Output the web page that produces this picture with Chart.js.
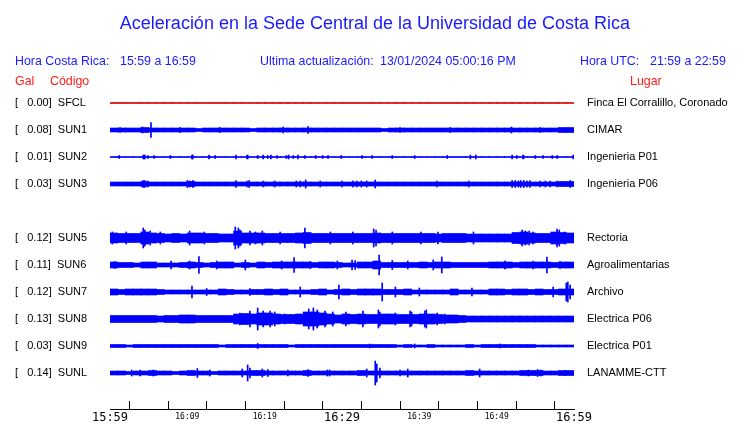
<!DOCTYPE html>
<html><head><meta charset="utf-8">
<script src="https://cdn.jsdelivr.net/npm/chart.js@4.4.1/dist/chart.umd.min.js"></script>
<style>
html,body{margin:0;padding:0;background:#fff}
body{width:740px;height:423px;overflow:hidden;position:relative;font-family:"Liberation Sans",Arial,sans-serif}
#c{position:absolute;left:0;top:0}
.t{position:absolute;white-space:pre;line-height:1}
.b{color:#1a1aff}
.r{color:#ff1a1a}
.h{font-size:12.4px;top:55px}
</style></head><body>
<canvas id="c" width="740" height="423"></canvas>
<div class="t b" style="left:5px;width:740px;text-align:center;top:13.5px;font-size:18px">Aceleración en la Sede Central de la Universidad de Costa Rica</div>
<div class="t b h" style="left:15px">Hora Costa Rica:</div>
<div class="t b h" style="left:120px">15:59 a 16:59</div>
<div class="t b h" style="left:260px">Ultima actualización:</div>
<div class="t b h" style="left:380px">13/01/2024 05:00:16 PM</div>
<div class="t b h" style="left:580px">Hora UTC:</div>
<div class="t b h" style="left:650px">21:59 a 22:59</div>
<div class="t r h" style="left:15px;top:75px">Gal</div>
<div class="t r h" style="left:50px;top:75px">Código</div>
<div class="t r h" style="left:630px;top:75px">Lugar</div>
<script>
// ---- data ----
const stationCodes = ['SFCL','SUN1','SUN2','SUN3','SUN5','SUN6','SUN7','SUN8','SUN9','SUNL'];
const stationRows  = [0,1,2,3,5,6,7,8,9,10];
const galValues    = [0.00,0.08,0.01,0.03,0.12,0.11,0.12,0.13,0.03,0.14];
const places = ['Finca El Corralillo, Coronado','CIMAR','Ingenieria P01','Ingenieria P06','Rectoria','Agroalimentarias','Archivo','Electrica P06','Electrica P01','LANAMME-CTT'];
const timeLabels = ['15:59','16:09','16:19','16:29','16:39','16:49','16:59'];
const minutesSpan = 60;

// per-minute envelope (half amplitude, trace units)
const baseSFCL = [0.5,0.5,0.5,0.5,0.5,0.5,0.5,0.5,0.5,0.5, 0.5,0.5,0.5,0.5,0.5,0.5,0.5,0.5,0.5,0.5, 0.5,0.5,0.5,0.5,0.5,0.5,0.5,0.5,0.5,0.5, 0.5,0.5,0.5,0.5,0.5,0.5,0.5,0.5,0.5,0.5, 0.5,0.5,0.5,0.5,0.5,0.5,0.5,0.5,0.5,0.5, 0.5,0.5,0.5,0.5,0.5,0.5,0.5,0.5,0.5,0.5];
const baseSUN1 = [2,2,2,2,2.5,2,2,2,2,2, 2,1.5,2,2,2,2,2,2,1.5,2, 2,2,2,2,2,2,2,2,2,2, 2,2,2,2,2,1.5,2,2,2,2, 2,2,2,2,2,2,2,2,2,2, 2,2,2,2,2,2,2,2,2.5,2.5];
const baseSUN2 = [0.5,0.5,0.5,0.5,0.5,0.5,0.5,0.5,0.5,0.5, 0.5,0.5,0.5,0.5,0.5,0.5,0.5,0.5,0.5,0.5, 0.5,0.5,0.5,0.5,0.5,0.5,0.5,0.5,0.5,0.5, 0.5,0.5,0.5,0.5,0.5,0.5,0.5,0.5,0.5,0.5, 0.5,0.5,0.5,0.5,0.5,0.5,0.5,0.5,0.5,0.5, 0.5,0.5,0.5,0.5,0.5,0.5,0.5,0.5,0.5,0.5];
const baseSUN3 = [2,2,2,2,2.5,2,2,2,2,2, 2.5,2,2,2,2,2,2,2,2,2, 2,2,2,2,2,2,2,2,2,2, 2,2,2,2,2,2,2,2,2,2, 2,2,2,2,2,2,2,2,2,2, 2,2,2,2,2,2,2,2,2.5,2.5];
const baseSUN5 = [5,4.5,4.5,4.5,6,5,4.5,4,4.5,4, 5,5,4.5,4.5,4,4,7,5,5,5, 4.5,4.5,4.5,4.5,5,5.5,4.5,4.5,4.5,4.5, 4.5,4.5,4.5,4.5,5,4.5,4.5,4.5,4.5,4.5, 4.5,4.5,4,4.5,4.5,4.5,4,4,4,4, 4,4,5.5,6,5,4.5,4.5,6,5.5,5];
const baseSUN6 = [3,2.5,2.5,2,3,3,2,2,2,2.5, 3,2.5,2,2.5,3,3,2,2.5,2,3, 2.5,3,3,3,3,3,2.5,3,3,2.5, 2,2,3,3,4,2.5,2.5,2.5,2.5,2.5, 3,2.5,3,3,2.5,2.5,2.5,2.5,2.5,3, 3,3,2.5,3,3,3,3,2.5,3,3];
const baseSUN7 = [3,2.5,3,3,3,3,2.5,2,2,2, 2,2,2,2,3,2.5,2,2,2.5,2.5, 3,2.5,3,2,2,2,2.5,3,2,2.5, 3,2.5,3,3,3,2.5,2.5,2.5,3,2, 2,2,2,2,3,2,2,2,2,3, 3,2.5,3,3,2.5,3,2.5,2.5,3,3];
const baseSUN8 = [3.5,3.5,3.5,3.5,3.5,3.5,3,3.5,3.5,4, 4,3.5,3.5,3.5,3.5,3.5,5,5.5,5,6, 6,5,4.5,4.5,5,7,7,6,5,4, 5,4.5,5,4.5,4.5,5,5,4.5,4.5,4.5, 5,5,4.5,4,4,3.5,3,3,3,3, 3,3,3,3,3,3,3,3,3,3];
const baseSUN9 = [1.5,1.5,1,1.5,1.5,1.5,1.5,1.5,1.5,1.5, 1.5,1.5,1.5,1.5,1,1.5,1.5,1.5,1.5,1.5, 1.5,1.5,1.5,1,1.5,1.5,1.5,1.5,1.5,1.5, 1.5,1.5,1.5,1.5,1.5,1.5,1.5,1,1.5,1, 1,1.5,1,1,1,1,1.5,1,1.5,1.5, 1.5,1.5,1.5,1.5,1.5,1,1,1,1,1];
const baseSUNL = [2,2,1.5,2,2,2.5,2,2,1.5,2, 2.5,2,2,1.5,2,2,2,2,2.5,2.5, 2,2,2,2,2,2.5,2,2,2,2, 2,2,2.5,2,2,2,2,2,2,2, 2,2,2,2,2,2,2.5,2,2,2, 2,2,2,2.5,2.5,2.5,2,2,2.5,2.5];

// peaks: [minute, half amplitude]
const peaksSFCL = [];
const peaksSUN1 = [[1.3,2.5],[4.2,3],[5.3,7.5],[9.1,2.5],[14.2,2.5],[22.4,3],[25.6,3.5],[37.5,2.5],[44.0,2.5],[51.9,3],[55.6,2.5]];
const peaksSUN2 = [[1.2,1.5],[4.3,2],[4.5,2],[4.9,1.5],[5.7,1.5],[7.8,1.5],[10.6,2],[10.7,2],[12.8,2],[13.6,1.5],[16.3,2],[17.7,1.5],[17.8,2],[19.1,1.5],[19.8,2],[20.4,1.5],[20.8,2],[21.6,1.5],[22.8,1.5],[23.1,2],[23.7,1.5],[24.3,2],[25.2,1.5],[26.6,1.5],[27.5,1.5],[28.2,1.5],[29.9,1.5],[32.6,1.5],[33.9,1.5],[36.5,1.5],[39.4,1.5],[43.6,1.5],[46.6,2],[47.3,2],[52.0,2],[52.6,1.5],[53.4,2],[53.5,1.5],[55.0,1.5],[56.0,1.5],[57.2,1.5],[57.8,1.5],[59.9,2]];
const peaksSUN3 = [[4.3,3.5],[4.5,3.5],[4.9,3],[10.0,3.5],[10.3,3],[10.7,3.5],[16.3,3.5],[17.7,3],[18.0,3.5],[19.8,3],[21.3,3],[24.1,3],[24.6,3],[25.3,4],[27.2,3],[30.0,3],[31.4,3],[31.9,3],[32.5,3],[33.2,3],[34.3,4],[42.3,3],[46.4,3],[52.0,3.5],[52.4,3.5],[52.8,3],[53.1,3.5],[53.5,3.5],[53.9,3],[54.3,3.5],[55.6,3],[56.3,3],[56.9,3],[57.8,3],[59.5,3.5]];
const peaksSUN5 = [[0.3,6],[2.1,6],[4.3,10],[4.5,8],[5.2,7],[6.5,6],[10.3,7],[12.2,6],[16.2,11],[16.6,10],[16.8,8],[18.1,7],[18.8,6],[19.7,7],[22.0,6],[25.2,10],[28.5,6],[31.4,6],[34.1,9],[34.4,8],[36.5,6],[40.2,6],[42.4,6],[47.0,6],[53.3,8],[53.7,7],[54.2,7],[54.7,6],[57.8,9],[58.1,8],[58.8,6]];
const peaksSUN6 = [[0.6,3.5],[7.9,4],[10.3,4],[11.5,8.5],[13.8,4],[17.5,5],[22.2,4],[23.8,7.5],[25.9,3.5],[29.4,4],[31.3,5],[31.7,4.5],[34.8,10],[36.5,4.5],[38.5,4],[41.8,5],[42.9,8],[51.1,4],[54.7,4],[56.5,8],[58.2,3.5]];
const peaksSUN7 = [[10.6,6],[12.5,3.5],[18.1,3.5],[24.6,5],[29.6,7],[35.2,9],[36.9,5],[40.0,4],[46.8,4],[57.3,5],[59.0,9],[59.2,10],[59.5,7]];
const peaksSUN8 = [[16.8,6],[18.1,8],[19.1,11],[19.8,8],[20.7,8],[21.3,7],[22.6,5],[25.7,10],[26.3,11],[26.8,9],[27.8,8],[28.8,7],[30.5,7],[32.7,8],[34.7,9],[34.9,7],[36.9,6],[38.8,8],[39.0,7],[40.7,8],[40.9,9],[42.3,6],[43.3,5]];
const peaksSUN9 = [[19.1,2.5],[33.6,2],[39.4,2],[50.4,2]];
const peaksSUNL = [[2.8,3],[3.9,3],[5.6,3],[11.3,4.5],[12.9,3],[17.1,4],[17.8,8],[18.1,5],[19.7,4],[20.4,3.5],[23.0,3],[25.6,3.5],[28.1,3],[28.4,3],[33.2,4],[34.3,12],[34.5,9],[34.9,5],[37.5,3],[38.5,4],[47.8,4],[54.1,3],[55.3,3.5],[55.7,3],[58.8,2.5]];

const bases = [baseSFCL,baseSUN1,baseSUN2,baseSUN3,baseSUN5,baseSUN6,baseSUN7,baseSUN8,baseSUN9,baseSUNL];
const peaks = [peaksSFCL,peaksSUN1,peaksSUN2,peaksSUN3,peaksSUN5,peaksSUN6,peaksSUN7,peaksSUN8,peaksSUN9,peaksSUNL];

// ---- chart ----
const UNITS_PER_ROW = 27;
const traceColors = stationCodes.map(c => c === 'SFCL' ? '#e00000' : '#0000ff');
const datasets = [];
stationCodes.forEach((code, k) => {
  const row = stationRows[k];
  datasets.push({
    type: 'bar', label: code + ' env', grouped: false, barThickness: 8,
    backgroundColor: traceColors[k], borderWidth: 0,
    data: bases[k].map((a, i) => ({x: i + 0.5, y: [row - a / UNITS_PER_ROW, row + a / UNITS_PER_ROW]}))
  });
  datasets.push({
    type: 'bar', label: code + ' pk', grouped: false, barThickness: 1,
    backgroundColor: traceColors[k], borderWidth: 0,
    data: peaks[k].map(p => ({x: p[0], y: [row - p[1] / UNITS_PER_ROW, row + p[1] / UNITS_PER_ROW]}))
  });
});

const rowLabel = v => { const k = stationRows.indexOf(v); return k < 0 ? '' : '[   ' + galValues[k].toFixed(2) + ']  ' + stationCodes[k]; };
const placeLabel = v => { const k = stationRows.indexOf(v); return k < 0 ? '' : places[k]; };
const setRowTicks = s => { s.ticks = stationRows.map(v => ({value: v})); };
const fitSide = w => s => { s.width = w; s.paddingTop = 0; s.paddingBottom = 0; };

new Chart(document.getElementById('c'), {
  type: 'bar',
  data: {datasets},
  options: {
    responsive: false, animation: false, events: [],
    layout: {padding: {left: 15, right: 0, top: 76, bottom: 0}},
    plugins: {legend: {display: false}, tooltip: {enabled: false}, title: {display: false}},
    scales: {
      x: {
        type: 'linear', position: 'bottom', min: 0, max: minutesSpan, offset: false,
        afterFit: s => { s.height = 14; },
        grid: {drawOnChartArea: false, drawTicks: true, tickLength: -8, color: '#000', lineWidth: 1},
        border: {display: true, color: '#000', width: 1},
        ticks: {
          stepSize: 5, autoSkip: false, maxRotation: 0, padding: 9.5, color: '#000',
          font: c => (c.tick && c.tick.value % 30 === 0) ? {family: 'DejaVu Sans Mono', size: 12} : {family: 'DejaVu Sans Mono', size: 8, lineHeight: 1.6},
          callback: v => v % 10 === 0 ? timeLabels[v / 10] : ''
        }
      },
      y: {
        type: 'linear', position: 'left', reverse: true, min: -1, max: 11 + 1/3,
        afterFit: fitSide(95),
        afterBuildTicks: setRowTicks,
        grid: {display: false}, border: {display: false},
        ticks: {crossAlign: 'far', padding: 0, color: '#000', font: {family: 'Liberation Sans', size: 11}, callback: rowLabel}
      },
      y2: {
        type: 'linear', position: 'right', reverse: true, min: -1, max: 11 + 1/3,
        afterFit: fitSide(166),
        afterBuildTicks: setRowTicks,
        grid: {display: false, drawTicks: false}, border: {display: false},
        ticks: {crossAlign: 'near', padding: 13, color: '#000', font: {family: 'Liberation Sans', size: 11}, callback: placeLabel}
      }
    }
  }
});
</script>
</body></html>
